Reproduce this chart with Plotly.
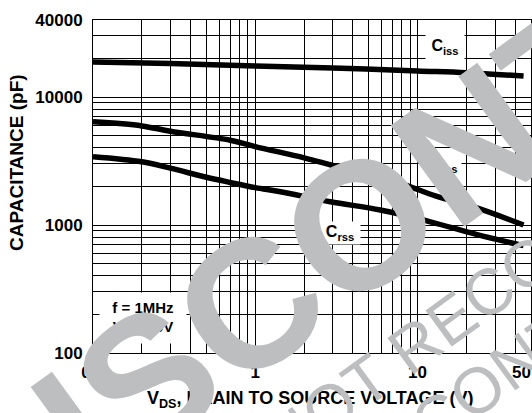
import math
import plotly.graph_objects as go

# ---- data ----
vds_ciss = [0.1, 0.3, 1, 3, 10, 20, 45]
ciss = [18800, 18300, 17500, 16900, 16000, 15500, 14600]

vds_coss = [0.1, 0.2, 0.3, 0.7, 1, 2, 3, 5, 8, 13, 22, 45]
coss = [6400, 5950, 5400, 4600, 4100, 3350, 2920, 2470, 2100, 1680, 1390, 1000]

vds_crss = [0.1, 0.2, 0.3, 0.5, 0.7, 1, 1.43, 2.9, 5.9, 12, 23, 45]
crss = [3420, 3120, 2780, 2360, 2150, 1960, 1820, 1520, 1310, 1060, 845, 690]

x_tick_vals = [0.1, 1, 10, 50]
x_tick_text = ["0.1", "1", "10", "50\u00a0\u00a0\u00a0\u00a0"]
y_tick_vals = [100, 1000, 10000, 40000]
y_tick_text = ["100", "1000", "10000", "40000"]

W, H = 532, 413
ML, MR, MT, MB = 93, 1, 20, 60
PW, PH = W - ML - MR, H - MT - MB

FONT = "Liberation Sans, Arial, Helvetica, sans-serif"
GRAY = "#bcbec0"

x_minor = [m * 10 ** d for d in (-1, 0, 1) for m in range(2, 10) if m * 10 ** d < 50]
y_minor = [m * 10 ** d for d in (2, 3, 4) for m in range(2, 10) if m * 10 ** d < 40000]

fig = go.Figure()
for xs, ys in ((vds_ciss, ciss), (vds_coss, coss), (vds_crss, crss)):
    fig.add_trace(go.Scatter(x=xs, y=ys, mode="lines",
                             line=dict(color="black", width=5.5, shape="spline", smoothing=1),
                             showlegend=False, hoverinfo="skip"))

def px2paper(px, py):
    return (px - ML) / PW, (H - MB - py) / PH

annotations = []
# curve labels
def lab(text, x, y, w, h):
    annotations.append(dict(text=text, x=math.log10(x), y=math.log10(y), xref="x", yref="y",
                            xanchor="center", yanchor="middle",
                            showarrow=False, bgcolor="white", width=w, height=h,
                            font=dict(family=FONT, size=16, color="black", weight="bold")))

lab("C<sub>iss</sub>", 14.8, 24500, 36, 22)
lab("C<sub>oss</sub>", 14.2, 2945, 36, 22)
lab("C<sub>rss</sub>", 3.34, 866, 38, 20)

annotations.append(dict(text="f = 1MHz<br>V<sub>GS</sub> = 0V", x=math.log10(0.204), y=math.log10(187),
                        xref="x", yref="y", xanchor="center", yanchor="middle",
                        showarrow=False, bgcolor="white", width=84, height=48,
                        font=dict(family=FONT, size=15, color="black", weight="bold")))

# axis titles
tx, ty = px2paper(310, 399)
annotations.append(dict(text="V<sub>DS</sub>, DRAIN TO SOURCE VOLTAGE (V)", x=tx, y=ty,
                        xref="paper", yref="paper", showarrow=False, xanchor="center", yanchor="middle",
                        font=dict(family=FONT, size=18, color="black", weight="bold")))
tx, ty = px2paper(16, 163)
annotations.append(dict(text="CAPACITANCE (pF)", x=tx, y=ty, textangle=-90,
                        xref="paper", yref="paper", showarrow=False, xanchor="center", yanchor="middle",
                        font=dict(family=FONT, size=19, color="black", weight="bold")))

# watermark
wx, wy = px2paper(511, 115)
annotations.append(dict(text="DISCONTINUED", x=wx, y=wy, xref="paper", yref="paper",
                        showarrow=False, textangle=-36, xanchor="center", yanchor="middle",
                        font=dict(family=FONT, size=182, color=GRAY, weight="bold")))
wx, wy = px2paper(785, 76)
annotations.append(dict(text="NOT RECOMMENDED FOR NEW DESIGN", x=wx, y=wy, xref="paper", yref="paper",
                        showarrow=False, textangle=-36, xanchor="center", yanchor="middle",
                        font=dict(family=FONT, size=65, color=GRAY)))
wx, wy = px2paper(587, 310)
annotations.append(dict(text="CONTACT US", x=wx, y=wy, xref="paper", yref="paper",
                        showarrow=False, textangle=-36, xanchor="center", yanchor="middle",
                        font=dict(family=FONT, size=65, color=GRAY)))

axis_common = dict(type="log", showgrid=True, gridcolor="black", gridwidth=1,
                   showline=True, linecolor="black", linewidth=1, mirror=True,
                   ticks="", automargin=False,
                   tickfont=dict(family=FONT, size=17, color="black", weight="bold"))

fig.update_layout(
    width=W, height=H,
    margin=dict(l=ML, r=MR, t=MT, b=MB, pad=0, autoexpand=False),
    paper_bgcolor="white", plot_bgcolor="white",
    xaxis=dict(range=[-1, math.log10(50)], tickmode="array", tickvals=x_tick_vals, ticktext=x_tick_text,
               ticklabelstandoff=4, ticklabeloverflow="allow",
               minor=dict(tickmode="array", tickvals=x_minor, showgrid=True, gridcolor="black",
                          gridwidth=1, ticks=""),
               **axis_common),
    yaxis=dict(range=[2, math.log10(40000)], tickmode="array", tickvals=y_tick_vals, ticktext=y_tick_text,
               ticklabelstandoff=6, ticklabeloverflow="allow",
               minor=dict(tickmode="array", tickvals=y_minor, showgrid=True, gridcolor="black",
                          gridwidth=1, ticks=""),
               **axis_common),
    annotations=annotations,
)

fig.write_html("out.html", config={"displayModeBar": False},
               post_script="document.body.style.margin='0';document.body.style.padding='0';")
